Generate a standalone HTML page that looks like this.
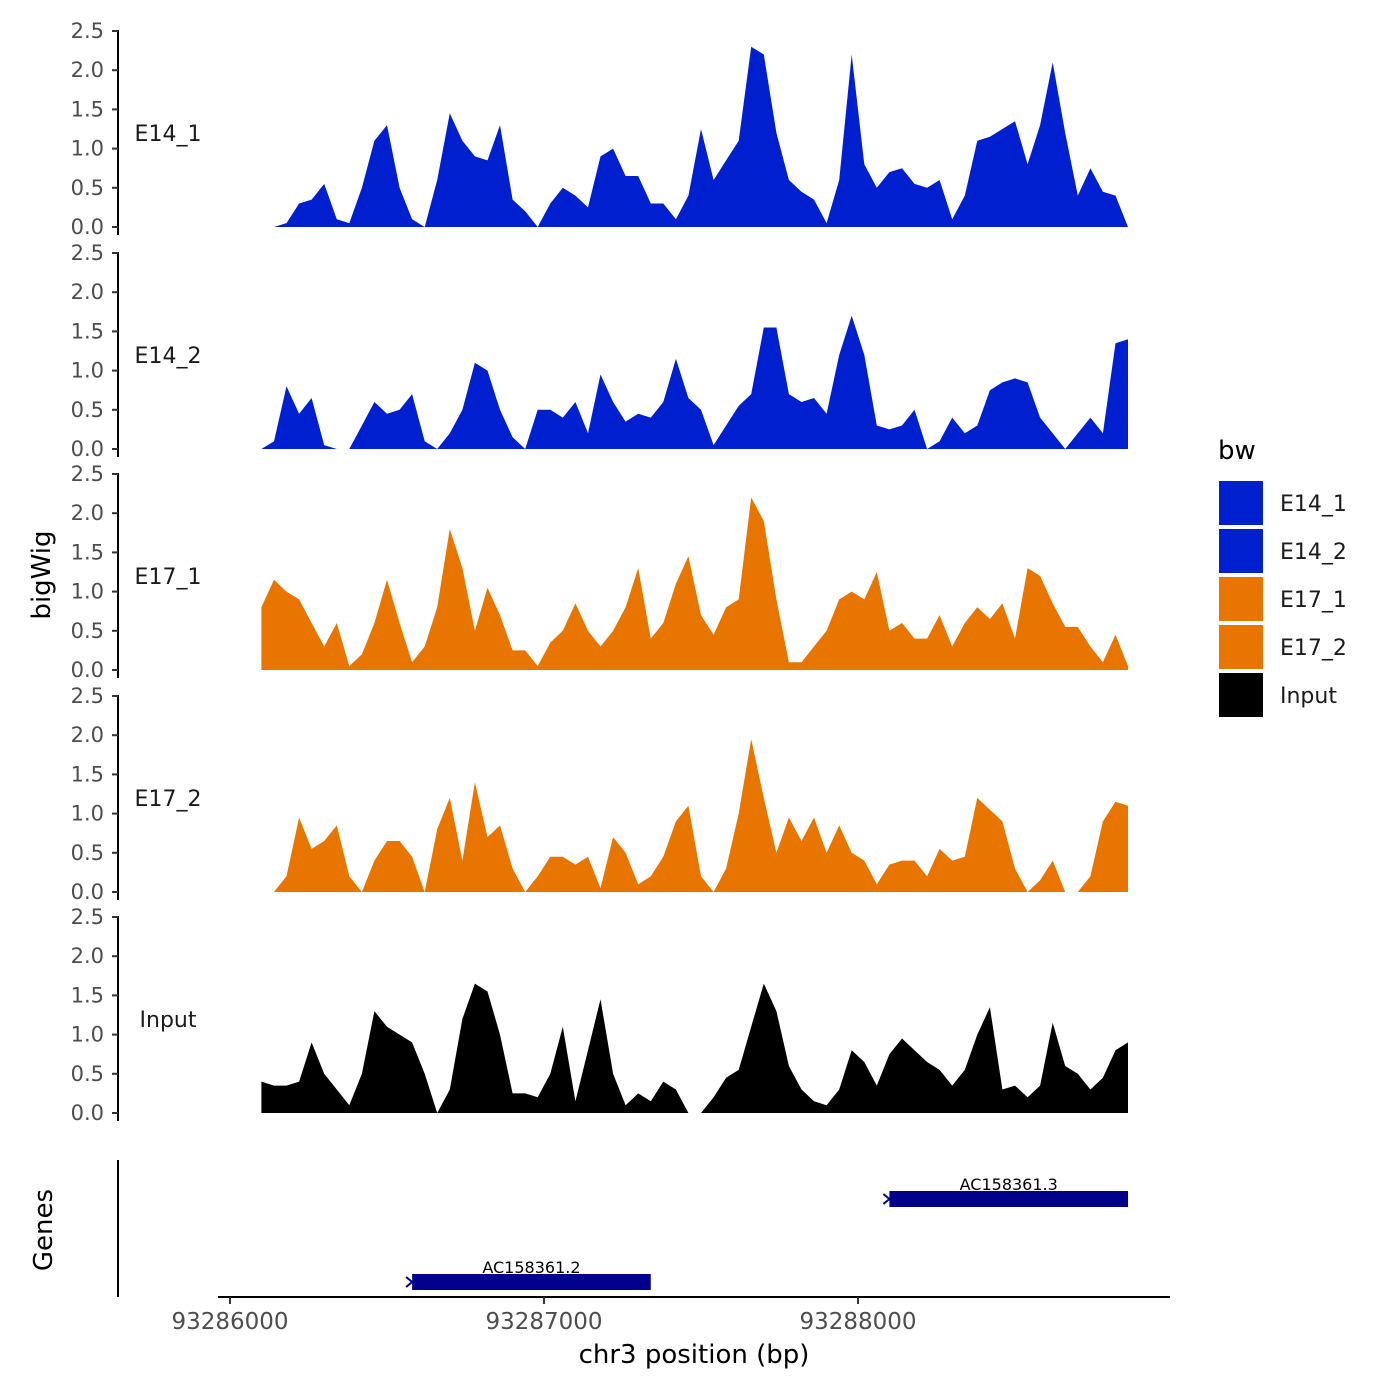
<!DOCTYPE html>
<html><head><meta charset="utf-8">
<style>
html,body{margin:0;padding:0;background:#fff;}
svg{display:block;font-family:"DejaVu Sans","Liberation Sans",sans-serif;}
</style></head>
<body>
<svg id="chart" width="1400" height="1400" viewBox="0 0 1400 1400">
<g id="tracks"></g>
<g id="genes"></g>
<g id="xaxis"></g>
<text x="50" y="575" transform="rotate(-90 50 575)" text-anchor="middle" font-size="26">bigWig</text>
<text x="52" y="1230" transform="rotate(-90 52 1230)" text-anchor="middle" font-size="26">Genes</text>
<text x="694" y="1363" text-anchor="middle" font-size="26">chr3 position (bp)</text>
<g id="legend"></g>
</svg>
<script>
const trackNames = ["E14_1","E14_2","E17_1","E17_2","Input"];
const trackColors = ["#0020d0","#0020d0","#e87500","#e87500","#000000"];
const startBp = 93286100;
const stepBp = 40;
const yTicks = [0,0.5,1,1.5,2,2.5];
const yTickLabels = ["0.0","0.5","1.0","1.5","2.0","2.5"];
const xTicks = [93286000,93287000,93288000];
const xTickLabels = ["93286000","93287000","93288000"];
const e14_1 = [0,0,0.05,0.3,0.35,0.55,0.1,0.05,0.5,1.1,1.3,0.5,0.1,0,0.6,1.45,1.1,0.9,0.85,1.3,0.35,0.2,0,0.3,0.5,0.4,0.25,0.9,1.0,0.65,0.65,0.3,0.3,0.1,0.4,1.25,0.6,0.85,1.1,2.3,2.2,1.2,0.6,0.45,0.35,0.05,0.6,2.2,0.8,0.5,0.7,0.75,0.55,0.5,0.6,0.1,0.4,1.1,1.15,1.25,1.35,0.8,1.3,2.1,1.2,0.4,0.75,0.45,0.4,0];
const e14_2 = [0,0.1,0.8,0.45,0.65,0.05,0,0,0.3,0.6,0.45,0.5,0.7,0.1,0,0.2,0.5,1.1,1.0,0.5,0.15,0,0.5,0.5,0.4,0.6,0.2,0.95,0.6,0.35,0.45,0.4,0.6,1.15,0.65,0.5,0.05,0.3,0.55,0.7,1.55,1.55,0.7,0.6,0.65,0.45,1.2,1.7,1.2,0.3,0.25,0.3,0.5,0,0.1,0.4,0.2,0.3,0.75,0.85,0.9,0.85,0.4,0.2,0,0.2,0.4,0.2,1.35,1.4];
const e17_1 = [0.8,1.15,1.0,0.9,0.6,0.3,0.6,0.05,0.2,0.6,1.15,0.6,0.1,0.3,0.8,1.8,1.3,0.5,1.05,0.7,0.25,0.25,0.05,0.35,0.5,0.85,0.5,0.3,0.5,0.8,1.3,0.4,0.6,1.1,1.45,0.7,0.45,0.8,0.9,2.2,1.9,0.9,0.1,0.1,0.3,0.5,0.9,1.0,0.9,1.25,0.5,0.6,0.4,0.4,0.7,0.3,0.6,0.8,0.65,0.85,0.4,1.3,1.2,0.85,0.55,0.55,0.3,0.1,0.45,0.05];
const e17_2 = [0,0,0.2,0.95,0.55,0.65,0.85,0.2,0,0.4,0.65,0.65,0.45,0,0.8,1.2,0.4,1.4,0.7,0.85,0.3,0,0.2,0.45,0.45,0.35,0.45,0.05,0.7,0.5,0.1,0.2,0.45,0.9,1.1,0.2,0,0.3,1.0,1.95,1.2,0.5,0.95,0.65,0.95,0.5,0.85,0.5,0.4,0.1,0.35,0.4,0.4,0.2,0.55,0.4,0.45,1.2,1.05,0.9,0.3,0,0.15,0.4,0,0,0.2,0.9,1.15,1.1];
const input = [0.4,0.35,0.35,0.4,0.9,0.5,0.3,0.1,0.5,1.3,1.1,1.0,0.9,0.5,0,0.3,1.2,1.65,1.55,1.0,0.25,0.25,0.2,0.5,1.1,0.15,0.8,1.45,0.5,0.1,0.25,0.15,0.4,0.3,0,0,0.2,0.45,0.55,1.1,1.65,1.3,0.6,0.3,0.15,0.1,0.3,0.8,0.65,0.35,0.75,0.95,0.8,0.65,0.55,0.35,0.55,1.0,1.35,0.3,0.35,0.2,0.35,1.15,0.6,0.5,0.3,0.45,0.8,0.9];
const geneNames = ["AC158361.2","AC158361.3"];
const geneStarts = [93286580,93288100];
const geneEnds = [93287340,93288860];
const geneRows = [0,1];

const NS="http://www.w3.org/2000/svg";
function mk(tag,attrs,parent){const e=document.createElementNS(NS,tag);for(const k in attrs)e.setAttribute(k,attrs[k]);parent.appendChild(e);return e;}
const xScale = bp => 230 + (bp-93286000)*0.314;
const panelBase = [227,449,670,892,1113];
const yScale = (p,v) => panelBase[p] - v*78.4;
const series=[e14_1,e14_2,e17_1,e17_2,input];
const tracks=document.getElementById('tracks');
series.forEach((vals,p)=>{
  const g=mk('g',{},tracks);
  
  
  const line=mk('line',{x1:118,x2:118,y1:yScale(p,2.5)-1,y2:panelBase[p]+8,stroke:'#000','stroke-width':2},g);
  
  
  yTicks.forEach((t,i)=>{
    const y=yScale(p,t);
    const tk=mk('line',{x1:112,x2:118,y1:y,y2:y,stroke:'#333','stroke-width':2},g);
    
    
    const tx=mk('text',{x:104,y:y+7,'text-anchor':'end','font-size':21,fill:'#4d4d4d'},g);
    tx.textContent=yTickLabels[i];
    
    
  });
  const lab=mk('text',{x:168,y:yScale(p,1.1),'text-anchor':'middle','font-size':22,fill:'#1a1a1a'},g);
  lab.textContent=trackNames[p];
  
  
  let d='M'+xScale(startBp)+','+panelBase[p];
  vals.forEach((v,i)=>{d+=' L'+xScale(startBp+i*stepBp).toFixed(1)+','+yScale(p,v).toFixed(1);});
  d+=' L'+xScale(startBp+(vals.length-1)*stepBp).toFixed(1)+','+panelBase[p]+' Z';
  const area=mk('path',{d:d,fill:trackColors[p]},g);
  
  
});
const genes=document.getElementById('genes');
const gl=mk('line',{x1:118,x2:118,y1:1160,y2:1297,stroke:'#000','stroke-width':2},genes);


geneNames.forEach((n,i)=>{
  const y= geneRows[i]===0?1282:1199;
  const x1=xScale(geneStarts[i]), x2=xScale(geneEnds[i]);
  const r=mk('rect',{x:x1,y:y-8,width:x2-x1,height:16,fill:'#00008b'},genes);
  
  
  const a=mk('path',{d:`M${x1-6},${y-5} L${x1},${y} L${x1-6},${y+5}`,stroke:'#00008b','stroke-width':2,fill:'none'},genes);
  
  
  const t=mk('text',{x:(x1+x2)/2,y:y-9,'text-anchor':'middle','font-size':16,fill:'#000'},genes);
  t.textContent=n;
  
  
});
const xa=document.getElementById('xaxis');
const xl=mk('line',{x1:218,x2:1170,y1:1297,y2:1297,stroke:'#000','stroke-width':2},xa);


xTicks.forEach((t,i)=>{
  const x=xScale(t);
  const tk=mk('line',{x1:x,x2:x,y1:1297,y2:1304,stroke:'#333','stroke-width':2},xa);
  
  
  const tx=mk('text',{x:x,y:1329,'text-anchor':'middle','font-size':23,fill:'#4d4d4d'},xa);
  tx.textContent=xTickLabels[i];
  
  
});
const lg=document.getElementById('legend');
const lt=mk('text',{x:1218,y:459,'font-size':26,fill:'#000'},lg);
lt.textContent='bw';


trackNames.forEach((n,i)=>{
  const y=481+i*48;
  const g=mk('g',{},lg);
  
  
  mk('rect',{x:1219,y:y,width:44,height:44,fill:trackColors[i]},g);
  const t=mk('text',{x:1280,y:y+30,'font-size':22,fill:'#1a1a1a'},g);
  t.textContent=n;
});
</script>
</body></html>
